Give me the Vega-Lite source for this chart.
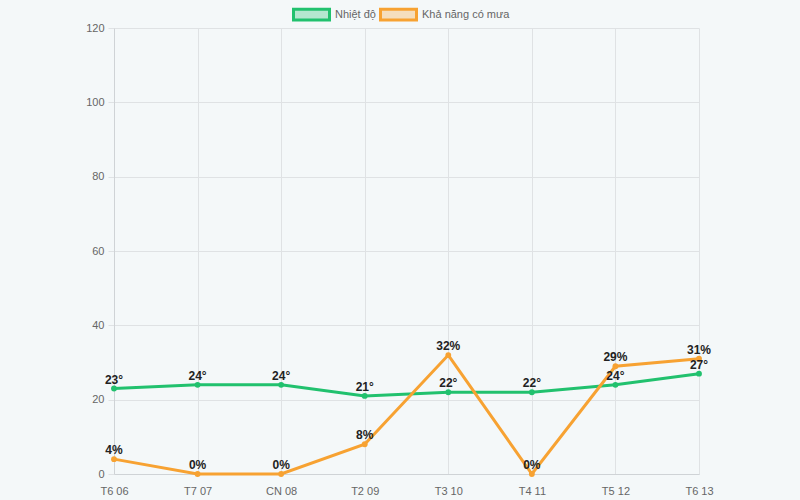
{
  "$schema": "https://vega.github.io/schema/vega-lite/v6.json",
  "width": 585,
  "height": 446,
  "autosize": {"type": "none"},
  "padding": {"left": 114, "top": 28, "right": 101, "bottom": 26},
  "background": "#f4f8f9",
  "config": {
    "view": {"stroke": null},
    "font": "Liberation Sans",
    "axis": {"gridColor": "#dfe2e4", "domainColor": "#cfd3d6", "tickColor": "#dfe2e4", "labelColor": "#666666", "labelFontSize": 11, "title": null}
  },
  "data": {"values": [
    {"day": "T6 06", "series": "Nhiệt độ", "value": 23, "label": "23°"},
    {"day": "T7 07", "series": "Nhiệt độ", "value": 24, "label": "24°"},
    {"day": "CN 08", "series": "Nhiệt độ", "value": 24, "label": "24°"},
    {"day": "T2 09", "series": "Nhiệt độ", "value": 21, "label": "21°"},
    {"day": "T3 10", "series": "Nhiệt độ", "value": 22, "label": "22°"},
    {"day": "T4 11", "series": "Nhiệt độ", "value": 22, "label": "22°"},
    {"day": "T5 12", "series": "Nhiệt độ", "value": 24, "label": "24°"},
    {"day": "T6 13", "series": "Nhiệt độ", "value": 27, "label": "27°"},
    {"day": "T6 06", "series": "Khả năng có mưa", "value": 4, "label": "4%"},
    {"day": "T7 07", "series": "Khả năng có mưa", "value": 0, "label": "0%"},
    {"day": "CN 08", "series": "Khả năng có mưa", "value": 0, "label": "0%"},
    {"day": "T2 09", "series": "Khả năng có mưa", "value": 8, "label": "8%"},
    {"day": "T3 10", "series": "Khả năng có mưa", "value": 32, "label": "32%"},
    {"day": "T4 11", "series": "Khả năng có mưa", "value": 0, "label": "0%"},
    {"day": "T5 12", "series": "Khả năng có mưa", "value": 29, "label": "29%"},
    {"day": "T6 13", "series": "Khả năng có mưa", "value": 31, "label": "31%"}
  ]},
  "encoding": {
    "x": {"field": "day", "type": "ordinal", "sort": null, "scale": {"type": "point", "padding": 0},
      "axis": {"labelAngle": 0, "grid": true, "ticks": false, "labelPadding": 11}},
    "y": {"field": "value", "type": "quantitative", "scale": {"domain": [0, 120]},
      "axis": {"values": [0, 20, 40, 60, 80, 100, 120], "tickSize": 6, "labelPadding": 4}},
    "color": {"field": "series", "type": "nominal",
      "scale": {"domain": ["Nhiệt độ", "Khả năng có mưa"], "range": ["#21c16e", "#f7a232"]}}
  },
  "layer": [
    {"mark": {"type": "line", "strokeWidth": 3},
      "encoding": {"color": {"field": "series", "type": "nominal",
        "legend": {"orient": "none", "legendX": 178, "legendY": -33, "direction": "horizontal", "title": null,
          "symbolType": "M-1,-0.3H1V0.3H-1Z", "symbolSize": 1296, "symbolStrokeWidth": 3,
          "labelFontSize": 11, "labelColor": "#666666", "labelOffset": 4, "columnPadding": -2,
          "encode": {"symbols": {"update": {"fill": {"scale": "color", "field": "value"}, "fillOpacity": {"value": 0.3}}}}}}}},
    {"mark": {"type": "point", "filled": true, "size": 34, "opacity": 1}},
    {"mark": {"type": "text", "dy": -9, "fontWeight": "bold", "fontSize": 12, "color": "#222222"},
      "encoding": {"text": {"field": "label"}, "color": {"value": "#222222"}}}
  ]
}
